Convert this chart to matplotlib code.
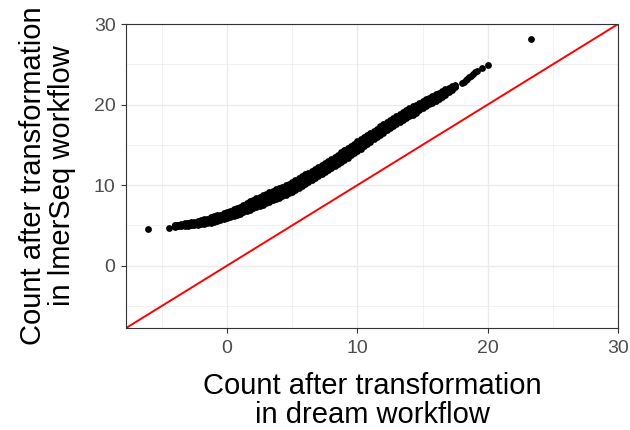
import matplotlib
matplotlib.use("Agg")
import matplotlib.pyplot as plt
import numpy as np

# Dense part of the gene-level comparison: centre of the point cloud and its
# vertical half-spread, on a regular grid of dream-workflow values
band_x = [
    -4.0, -3.75, -3.5, -3.25, -3.0, -2.75, -2.5, -2.25, -2.0, -1.75,
    -1.5, -1.25, -1.0, -0.75, -0.5, -0.25, 0.0, 0.25, 0.5, 0.75,
    1.0, 1.25, 1.5, 1.75, 2.0, 2.25, 2.5, 2.75, 3.0, 3.25,
    3.5, 3.75, 4.0, 4.25, 4.5, 4.75, 5.0, 5.25, 5.5, 5.75,
    6.0, 6.25, 6.5, 6.75, 7.0, 7.25, 7.5, 7.75, 8.0, 8.25,
    8.5, 8.75, 9.0, 9.25, 9.5, 9.75, 10.0, 10.25, 10.5, 10.75,
    11.0, 11.25, 11.5, 11.75, 12.0, 12.25, 12.5, 12.75, 13.0, 13.25,
    13.5, 13.75, 14.0, 14.25, 14.5, 14.75, 15.0, 15.25, 15.5, 15.75,
    16.0, 16.25, 16.5, 16.75, 17.0, 17.25, 17.5,
]
band_y = [
    4.95, 5.0, 5.05, 5.1, 5.15, 5.2, 5.25, 5.32, 5.4, 5.47,
    5.55, 5.67, 5.8, 5.9, 6.0, 6.12, 6.25, 6.42, 6.6, 6.75,
    6.9, 7.1, 7.3, 7.47, 7.65, 7.82, 8.0, 8.17, 8.35, 8.52,
    8.7, 8.87, 9.05, 9.22, 9.4, 9.6, 9.8, 10.02, 10.25, 10.5,
    10.75, 10.97, 11.2, 11.45, 11.7, 11.95, 12.2, 12.45, 12.7, 12.95,
    13.2, 13.47, 13.75, 14.02, 14.3, 14.57, 14.85, 15.12, 15.4, 15.67,
    15.95, 16.22, 16.5, 16.77, 17.05, 17.32, 17.6, 17.85, 18.1, 18.35,
    18.6, 18.82, 19.05, 19.27, 19.5, 19.75, 20.0, 20.22, 20.45, 20.67,
    20.9, 21.12, 21.35, 21.57, 21.8, 22.05, 22.3,
]
band_half = [
    0.1, 0.1, 0.12, 0.15, 0.18, 0.2, 0.22, 0.24, 0.26, 0.28,
    0.3, 0.32, 0.33, 0.34, 0.35, 0.36, 0.37, 0.38, 0.4, 0.42,
    0.44, 0.46, 0.48, 0.5, 0.52, 0.54, 0.56, 0.58, 0.6, 0.6,
    0.6, 0.6, 0.6, 0.6, 0.6, 0.6, 0.6, 0.6, 0.6, 0.6,
    0.6, 0.6, 0.6, 0.6, 0.6, 0.6, 0.6, 0.6, 0.6, 0.6,
    0.6, 0.6, 0.6, 0.6, 0.6, 0.6, 0.6, 0.6, 0.58, 0.56,
    0.55, 0.54, 0.53, 0.52, 0.52, 0.52, 0.52, 0.5, 0.5, 0.5,
    0.5, 0.5, 0.5, 0.5, 0.48, 0.46, 0.45, 0.44, 0.43, 0.42,
    0.4, 0.38, 0.35, 0.32, 0.28, 0.2, 0.1,
]

# Isolated genes at both ends of the range
sparse_x = [-6.08, -4.47, 18.0, 18.15, 18.3, 18.45, 18.6, 18.75, 18.9,
            19.05, 19.2, 19.54, 20.0, 23.3]
sparse_y = [4.53, 4.7, 22.65, 22.85, 23.0, 23.2, 23.4, 23.6, 23.8,
            24.0, 24.2, 24.6, 24.9, 28.2]

axis_lim = (-7.75, 29.95)
major_ticks = [0, 10, 20, 30]
minor_ticks = [-5, 5, 15, 25]

x_title = "Count after transformation\nin dream workflow"
y_title = "Count after transformation\nin lmerSeq workflow"

plt.rcParams["font.family"] = ["Liberation Sans", "DejaVu Sans"]

fig = plt.figure(figsize=(6.3, 4.3), dpi=100)
ax = fig.add_axes([0.2, 0.237, 0.781, 0.707])
ax.set_facecolor("white")

ax.set_xlim(axis_lim)
ax.set_ylim(axis_lim)
ax.set_xticks(major_ticks)
ax.set_yticks(major_ticks)
ax.set_xticks(minor_ticks, minor=True)
ax.set_yticks(minor_ticks, minor=True)

ax.grid(which="major", color="#EBEBEB", linewidth=1.0, zorder=0)
ax.grid(which="minor", color="#EBEBEB", linewidth=0.5, zorder=0)
ax.set_axisbelow(True)

ax.tick_params(which="major", length=3.5, width=0.8, color="#333333",
               labelcolor="#4D4D4D", labelsize=14)
ax.tick_params(axis="x", which="major", pad=5)
ax.tick_params(axis="y", which="major", pad=4)
ax.tick_params(which="minor", length=0)
for sp in ax.spines.values():
    sp.set_color("#333333")
    sp.set_linewidth(0.8)

bx = np.asarray(band_x)
by = np.asarray(band_y)
bh = np.asarray(band_half)
pt_size = 24
for k in (-1.0, -0.5, 0.0, 0.5, 1.0):
    ax.scatter(bx, by + k * bh, s=pt_size, color="black", linewidths=0, zorder=3)
ax.scatter(sparse_x, sparse_y, s=pt_size, color="black", linewidths=0, zorder=3)

# identity line
ax.axline((0, 0), slope=1, color="#FF0000", linewidth=1.4, zorder=2)

ax.set_xlabel(x_title, fontsize=21, color="black", linespacing=1.05, labelpad=11)
ax.set_ylabel(y_title, fontsize=21, color="black", linespacing=1.05, labelpad=13)

fig.savefig("out.png", dpi=100, facecolor="white")
